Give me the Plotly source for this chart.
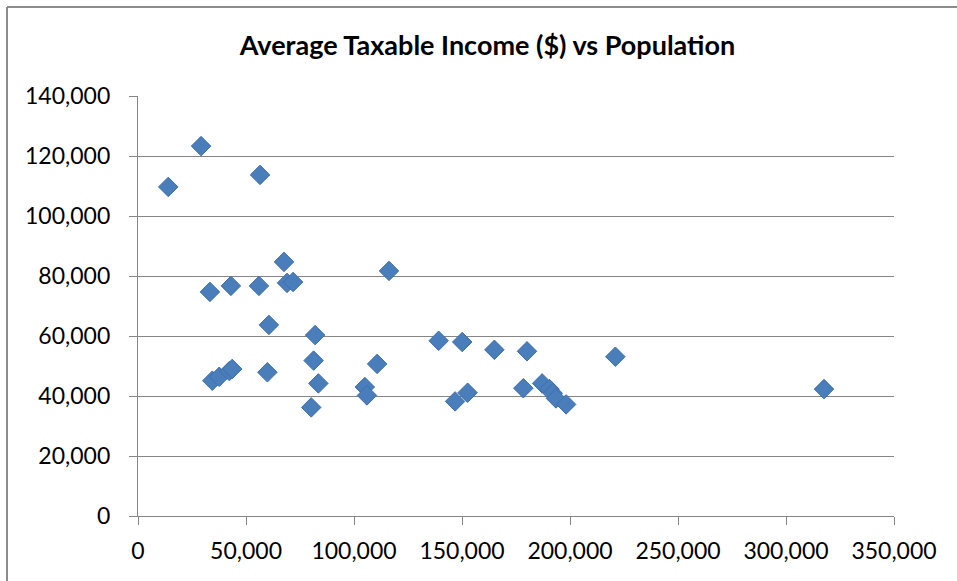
import plotly.graph_objects as go

# Population (x) and average taxable income in dollars (y) per area
population = [
    14000, 29200, 56500,
    33300, 43000, 56000, 67600, 69000, 71800, 116200,
    60600, 82000,
    34400, 37600, 42300, 43600, 59900,
    81300, 83500, 80200, 105000, 106000, 110700,
    139200, 150100, 165000, 180100, 221000,
    146800, 152600, 178400, 187100, 190500, 192000, 193500, 198200,
    317600,
]
income = [
    109700, 123300, 113700,
    74700, 76700, 76700, 84700, 77700, 78000, 81700,
    63700, 60300,
    45100, 46400, 48300, 49000, 47900,
    51800, 44200, 36200, 43000, 40200, 50700,
    58400, 58000, 55400, 54900, 53100,
    38200, 41100, 42600, 44200, 42300, 40900, 39200, 37200,
    42300,
]

x_ticks = [0, 50000, 100000, 150000, 200000, 250000, 300000, 350000]
y_ticks = [0, 20000, 40000, 60000, 80000, 100000, 120000, 140000]

GRID = "#868686"
FONT = "Lato"

fig = go.Figure(
    go.Scatter(
        x=population,
        y=income,
        mode="markers",
        marker=dict(symbol="diamond", size=15, color="#4a7ebb",
                    line=dict(color="#3e6fae", width=1)),
        hoverinfo="x+y",
    )
)

W, H = 957, 581
L, R, T, B = 138, 63, 96, 65
pw, ph = W - L - R, H - T - B


def px_x(p):
    return (p - L) / pw


def px_y(q):
    return (H - B - q) / ph


fig.update_layout(
    width=W,
    height=H,
    margin=dict(l=L, r=R, t=T, b=B),
    paper_bgcolor="white",
    plot_bgcolor="white",
    showlegend=False,
    title=dict(
        text="<b>Average Taxable Income ($) vs Population</b>",
        x=(233 + 742) / 2 / W,
        xanchor="center",
        y=1 - 46 / H,
        yanchor="middle",
        font=dict(family=FONT, size=27, color="black"),
    ),
    xaxis=dict(
        range=[0, 350000],
        tickvals=x_ticks,
        tickformat=",d",
        showgrid=False,
        zeroline=False,
        showline=True,
        linecolor=GRID,
        linewidth=1.3,
        ticks="outside",
        ticklen=8,
        tickcolor=GRID,
        tickwidth=1.3,
        ticklabelstandoff=6,
        tickfont=dict(family=FONT, size=23, color="black"),
    ),
    yaxis=dict(
        range=[0, 140000],
        tickvals=y_ticks,
        tickformat=",d",
        showgrid=True,
        gridcolor=GRID,
        gridwidth=1.3,
        zeroline=False,
        showline=True,
        linecolor=GRID,
        linewidth=1.3,
        ticks="outside",
        ticklen=8,
        tickcolor=GRID,
        tickwidth=1.3,
        ticklabelstandoff=14,
        tickfont=dict(family=FONT, size=23, color="black"),
    ),
    shapes=[
        # chart frame: top and left edges
        dict(type="line", xref="paper", yref="paper",
             x0=px_x(7), x1=px_x(960), y0=px_y(7), y1=px_y(7),
             line=dict(color="#8c8c8c", width=2)),
        dict(type="line", xref="paper", yref="paper",
             x0=px_x(7), x1=px_x(7), y0=px_y(7), y1=px_y(590),
             line=dict(color="#8c8c8c", width=2)),
    ],
)

fig.write_html("out.html")
